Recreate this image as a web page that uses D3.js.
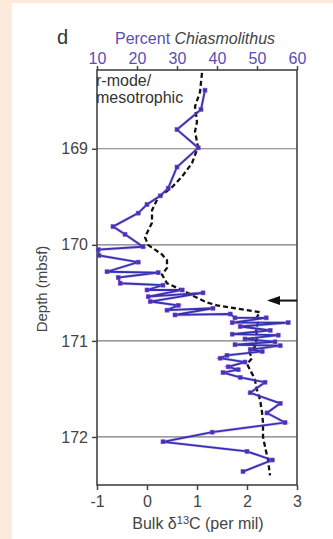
<!DOCTYPE html>
<html><head><meta charset="utf-8">
<script src="https://cdn.jsdelivr.net/npm/d3@7"></script>
<style>body{margin:0;background:#fcebdc;}svg{display:block;font-family:"Liberation Sans",Arial,sans-serif;}</style>
</head><body>
<svg id="c" width="333" height="539"></svg>
<script>
// Percent Chiasmolithus (top axis)
const chiasDepth = [168.39,168.59,168.80,168.99,169.19,169.41,169.49,169.58,169.67,169.81,169.89,170.02,170.05,170.11,170.18,170.28,170.29,170.34,170.40,170.42,170.47,170.47,170.54,170.50,170.59,170.63,170.68,170.66,170.73,170.72,170.76,170.76,170.81,170.81,170.85,170.89,170.93,170.94,170.98,171.01,171.04,171.05,171.09,171.11,171.15,171.18,171.22,171.27,171.30,171.33,171.38,171.43,171.54,171.65,171.75,171.85,171.95,172.05,172.15,172.24,172.36];
const chiasPct = [37.0,36.0,30.0,35.3,30.0,27.8,25.8,22.5,20.3,14.0,17.0,21.5,10.3,10.5,20.3,12.5,25.3,15.3,15.8,26.5,22.5,31.3,22.8,36.5,23.3,30.3,27.5,39.0,29.5,43.3,44.5,52.3,43.8,57.8,45.8,53.3,43.8,55.3,47.0,54.5,44.5,55.8,48.3,51.3,42.5,40.8,47.0,42.8,45.3,41.5,45.8,52.0,48.3,55.8,52.5,57.0,38.8,26.5,47.5,53.8,46.5];
// Bulk d13C (bottom axis)
const carbDepth = [168.21,168.41,168.56,168.72,168.82,168.98,169.15,169.29,169.40,169.51,169.64,169.77,169.92,170.00,170.05,170.10,170.16,170.24,170.31,170.40,170.47,170.54,170.60,170.63,170.66,170.70,170.75,170.81,170.88,170.96,171.06,171.12,171.18,171.24,171.30,171.36,171.41,171.51,171.61,171.74,171.85,172.00,172.10,172.24,172.40];
const carbVal = [1.10,1.06,0.96,1.00,0.96,1.02,0.90,0.70,0.50,0.22,0.10,0.10,-0.04,0.02,0.16,0.30,0.40,0.40,0.30,0.40,0.70,0.96,1.20,1.40,1.76,2.26,2.20,2.22,2.18,2.20,2.16,2.05,2.10,2.00,2.06,2.12,2.16,2.20,2.26,2.30,2.32,2.32,2.36,2.42,2.46];
const depthTicks = [169,170,171,172];
const pctTicks = [10,20,30,40,50,60];
const carbTicks = [-1,0,1,2,3];
const carbTickLabels = ["-1","0","1","2","3"];
const arrowDepth = 170.58;

const svg = d3.select("#c");
svg.append("rect").attr("x",12).attr("y",3).attr("width",321).attr("height",536).attr("fill","#fff");

const L=97,R=297,T=70,B=485;
const y = d3.scaleLinear().domain([168.18,172.5]).range([T,B]);
const xTop = d3.scaleLinear().domain([10,60]).range([L,R]);
const xBot = d3.scaleLinear().domain([-1,3]).range([L,R]);

// gridlines
svg.append("g").selectAll("line").data(depthTicks).join("line")
  .attr("x1",L).attr("x2",R).attr("y1",d=>y(d)).attr("y2",d=>y(d))
  .attr("stroke","#7a7a7a").attr("stroke-width",1.2);

// axes
const gl = svg.append("g").attr("transform",`translate(${L},0)`)
  .call(d3.axisLeft(y).tickValues(depthTicks).tickSize(5).tickPadding(4).tickFormat(d3.format("d")));
const gb = svg.append("g").attr("transform",`translate(0,${B})`)
  .call(d3.axisBottom(xBot).tickValues(carbTicks).tickSize(5).tickPadding(6).tickFormat((d,i)=>carbTickLabels[i]));
const gt = svg.append("g").attr("transform",`translate(0,${T})`)
  .call(d3.axisTop(xTop).tickValues(pctTicks).tickSize(4).tickPadding(2).tickFormat(d3.format("d")));
[gl,gb,gt].forEach(g=>{
  g.select(".domain").remove();
  g.selectAll(".tick line").attr("stroke","#444").attr("stroke-width",1.5);
  g.selectAll(".tick text").attr("font-size",16).attr("fill","#444").attr("font-family","Liberation Sans, Arial, sans-serif");
});
gt.selectAll(".tick text").attr("fill","#5a4db5");

// frame
svg.append("rect").attr("x",L).attr("y",T).attr("width",R-L).attr("height",B-T)
  .attr("fill","none").attr("stroke","#444").attr("stroke-width",1.6);

// carbon dashed line
const carb = carbDepth.map((d,i)=>[carbVal[i],d]);
svg.append("path").datum(carb)
  .attr("d",d3.line().x(d=>xBot(d[0])).y(d=>y(d[1])))
  .attr("fill","none").attr("stroke","#111").attr("stroke-width",2.3).attr("stroke-dasharray","5,3");

// chiasmolithus line
const ch = chiasDepth.map((d,i)=>[chiasPct[i],d]);
const lineC = d3.line().x(d=>xTop(d[0])).y(d=>y(d[1]));
svg.append("path").datum(ch).attr("d",lineC).attr("fill","none")
  .attr("stroke","#a050d0").attr("stroke-width",3).attr("stroke-opacity",0.35);
svg.append("path").datum(ch).attr("d",lineC).attr("fill","none")
  .attr("stroke","#3333b0").attr("stroke-width",1.8);
svg.append("g").selectAll("rect").data(ch).join("rect")
  .attr("x",d=>xTop(d[0])-2).attr("y",d=>y(d[1])-2).attr("width",4).attr("height",4)
  .attr("fill","#3636b8").attr("stroke","#8a45c8").attr("stroke-width",0.6);

// arrow
const ay = y(arrowDepth);
svg.append("line").attr("x1",278).attr("x2",R).attr("y1",ay).attr("y2",ay).attr("stroke","#111").attr("stroke-width",2);
svg.append("path").attr("d",`M267,${ay} L280,${ay-4.5} L280,${ay+4.5} Z`).attr("fill","#111");

// texts
svg.append("text").attr("x",57).attr("y",44).attr("font-size",20).attr("fill","#333").text("d");
const t = svg.append("text").attr("x",195).attr("y",44).attr("text-anchor","middle").attr("font-size",16);
t.append("tspan").attr("fill","#5a4db5").text("Percent ");
t.append("tspan").attr("fill","#444").attr("font-style","italic").text("Chiasmolithus");
svg.append("text").attr("x",96).attr("y",86).attr("font-size",16).attr("fill","#333").text("r-mode/");
svg.append("text").attr("x",96).attr("y",103).attr("font-size",16).attr("fill","#333").text("mesotrophic");
svg.append("text").attr("transform","translate(47,289) rotate(-90)").attr("text-anchor","middle")
  .attr("font-size",15).attr("fill","#444").text("Depth (mbsf)");
const bt = svg.append("text").attr("x",198).attr("y",529).attr("text-anchor","middle").attr("font-size",16).attr("fill","#444");
bt.append("tspan").text("Bulk δ");
bt.append("tspan").attr("font-size",11).attr("dy",-5).text("13");
bt.append("tspan").attr("dy",5).text("C (per mil)");
</script>
</body></html>
